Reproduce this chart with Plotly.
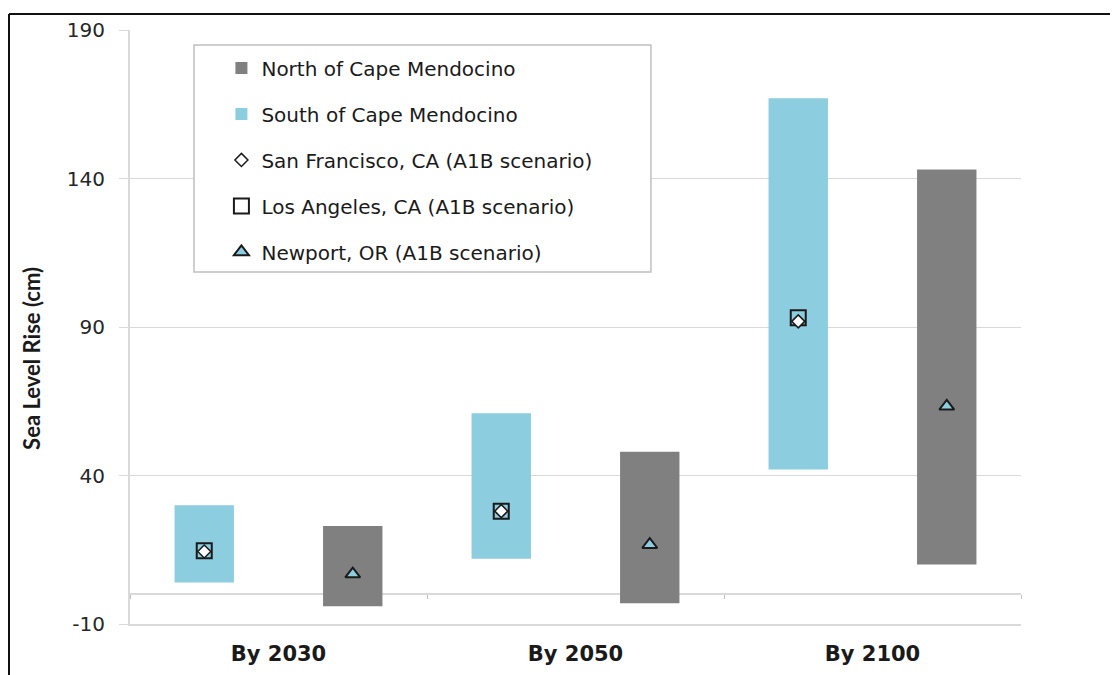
import plotly.graph_objects as go

periods = ["By 2030", "By 2050", "By 2100"]
south_low = [4, 12, 42]
south_high = [30, 61, 167]
north_low = [-4, -3, 10]
north_high = [23, 48, 143]
sf_a1b = [14.4, 28.0, 91.9]
la_a1b = [14.7, 28.0, 93.1]
newport_a1b = [6.8, 16.7, 63.3]
y_ticks = [-10, 40, 90, 140, 190]
y_tick_labels = ["-10", "40", "90", "140", "190"]

GRAY = "#808080"
BLUE = "#8dcde0"
GRID = "#d9d9d9"

fig = go.Figure()

fig.add_trace(go.Bar(
    x=periods, y=[h - l for h, l in zip(south_high, south_low)], base=south_low,
    name="South of Cape Mendocino", marker=dict(color=BLUE, line=dict(width=0)),
    offsetgroup="S", legendgroup="g2", legendrank=2,
))
fig.add_trace(go.Bar(
    x=periods, y=[h - l for h, l in zip(north_high, north_low)], base=north_low,
    name="North of Cape Mendocino", marker=dict(color=GRAY, line=dict(width=0)),
    offsetgroup="N", legendgroup="g1", legendrank=1,
))
fig.add_trace(go.Scatter(
    x=periods, y=la_a1b, mode="markers", name="Los Angeles, CA (A1B scenario)",
    marker=dict(symbol="square", size=15, color="rgba(0,0,0,0)", line=dict(color="#1a1a1a", width=2)),
    offsetgroup="S", legendgroup="g4", legendrank=4,
))
fig.add_trace(go.Scatter(
    x=periods, y=sf_a1b, mode="markers", name="San Francisco, CA (A1B scenario)",
    marker=dict(symbol="diamond", size=10, color="white", line=dict(color="#1a1a1a", width=1.5)),
    offsetgroup="S", legendgroup="g3", legendrank=3,
))
fig.add_trace(go.Scatter(
    x=periods, y=newport_a1b, mode="markers", name="Newport, OR (A1B scenario)",
    marker=dict(symbol="triangle-up", size=13, color=BLUE, line=dict(color="#1a1a1a", width=2)),
    offsetgroup="N", legendgroup="g5", legendrank=5,
))
# helper trace for tick marks on the zero-level category axis
fig.add_trace(go.Scatter(
    x=periods, y=[None] * 3, xaxis="x2", mode="markers", showlegend=False, hoverinfo="skip",
))

fig.update_layout(
    width=1118, height=675,
    margin=dict(l=122, r=105, t=22, b=59),
    plot_bgcolor="white", paper_bgcolor="white",
    barmode="group", bargap=0, bargroupgap=0.6,
    scattermode="group", scattergap=0,
    showlegend=True,
    legend=dict(
        x=0.1026, y=0.969, xanchor="left", yanchor="top",
        bgcolor="rgba(0,0,0,0)", borderwidth=0,
        font=dict(family="DejaVu Sans", size=20, color="#1a1a1a"),
        traceorder="grouped", tracegroupgap=17,
    ),
    xaxis=dict(
        type="category", categoryorder="array", categoryarray=periods, range=[-0.5, 2.5],
        showline=True, linecolor=GRID, linewidth=2, showgrid=False, ticks="",
        tickfont=dict(family="DejaVu Sans", size=21, color="#1a1a1a", weight="bold"),
        ticklabelstandoff=10, automargin=False,
    ),
    xaxis2=dict(
        type="category", categoryorder="array", categoryarray=periods, range=[-0.5, 2.5],
        overlaying="x", anchor="free", position=0.05, side="bottom",
        showline=False, showgrid=False, ticks="outside", ticklen=4, tickcolor="#bfbfbf",
        tickson="boundaries", showticklabels=False,
    ),
    yaxis=dict(
        range=[-10, 190], tickmode="array", tickvals=y_ticks, ticktext=y_tick_labels,
        showgrid=True, gridcolor=GRID, gridwidth=1,
        zeroline=True, zerolinecolor=GRID, zerolinewidth=2,
        showline=True, linecolor=GRID, linewidth=2,
        ticks="outside", ticklen=9, tickcolor=GRID,
        tickfont=dict(family="DejaVu Sans", size=20, color="#262626"),
        ticklabelstandoff=10, automargin=False,
    ),
    annotations=[dict(
        text="<b>Sea Level Rise (cm)</b>", textangle=-90,
        x=-0.11, y=0.448, xref="paper", yref="paper", xanchor="center", yanchor="middle",
        showarrow=False, font=dict(family="Lato", size=22, color="#1a1a1a"),
    )],
    shapes=[
        dict(type="rect", xref="paper", yref="paper", x0=0.0718, x1=0.5847, y0=0.5926, y1=0.9747,
             fillcolor="white", line=dict(color="#bfbfbf", width=1.5), layer="above"),
        dict(type="line", xref="paper", yref="paper", x0=-0.1358, x1=-0.1358, y0=-0.2, y1=1.027,
             line=dict(color="#111111", width=2)),
        dict(type="line", xref="paper", yref="paper", x0=-0.1358, x1=1.2, y0=1.027, y1=1.027,
             line=dict(color="#111111", width=2)),
    ],
)

fig.write_html("out.html")
